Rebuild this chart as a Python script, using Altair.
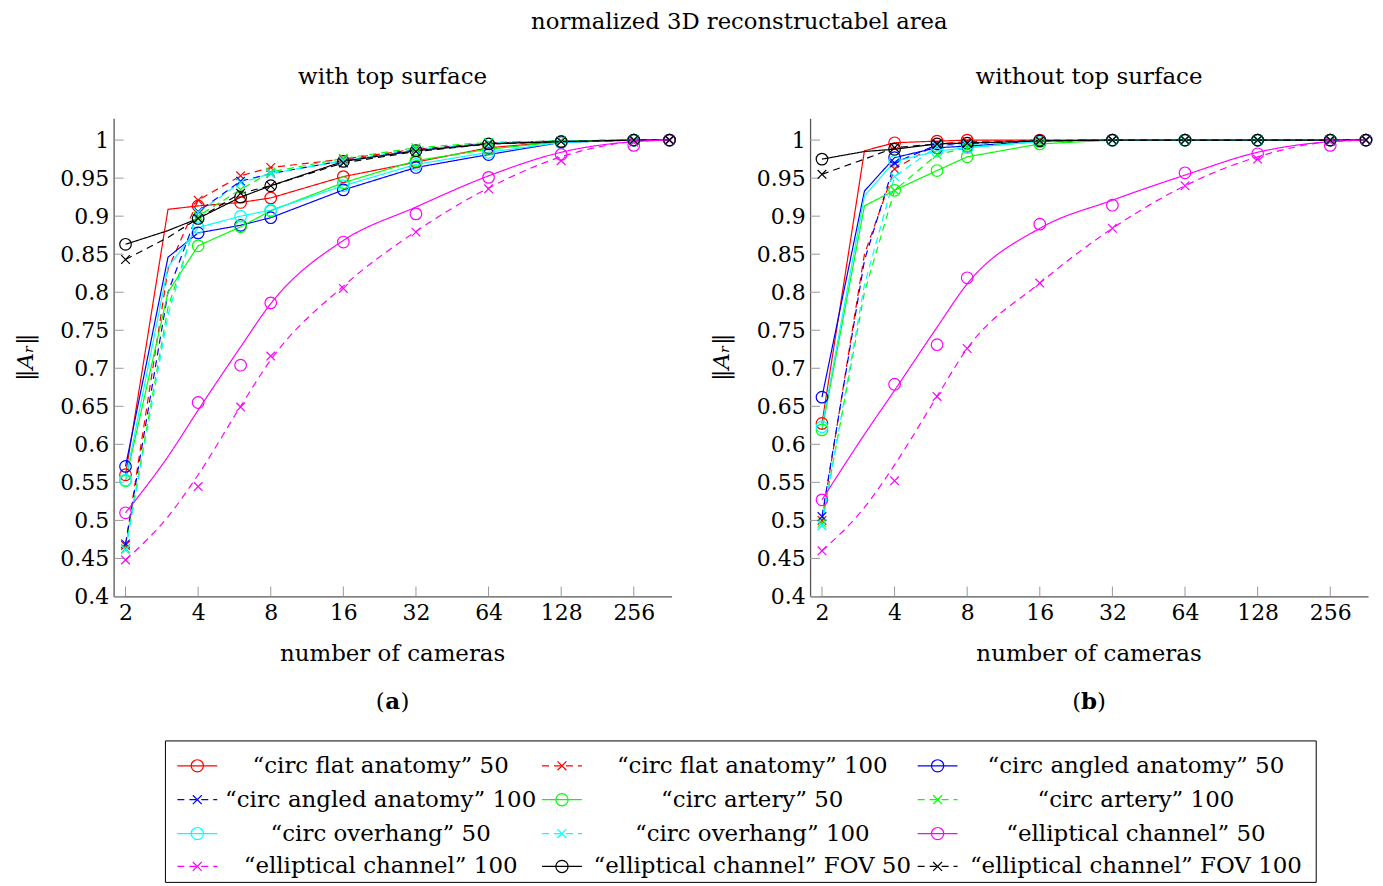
import altair as alt
import pandas as pd

FONT = "DejaVu Serif"

# ---------------- data ----------------
X_LINE = [2, 3, 4, 6, 8, 16, 32, 64, 128, 256, 360]
X_MARK = [2, 4, 6, 8, 16, 32, 64, 128, 256, 360]
X_TICKS = [2, 4, 8, 16, 32, 64, 128, 256]
Y_TICKS = [0.4, 0.45, 0.5, 0.55, 0.6, 0.65, 0.7, 0.75, 0.8, 0.85, 0.9, 0.95, 1.0]

SERIES = [
    "“circ flat anatomy” 50", "“circ flat anatomy” 100", "“circ angled anatomy” 50",
    "“circ angled anatomy” 100", "“circ artery” 50", "“circ artery” 100",
    "“circ overhang” 50", "“circ overhang” 100", "“elliptical channel” 50",
    "“elliptical channel” 100", "“elliptical channel” FOV 50", "“elliptical channel” FOV 100",
]
COLORS = ["#ff0000", "#ff0000", "#0000ff", "#0000ff", "#00ff00", "#00ff00",
          "#00ffff", "#00ffff", "#ff00ff", "#ff00ff", "#000000", "#000000"]
STYLE = ["solid", "dashed"] * 6

# panel (a): with top surface  (values at X_LINE)
A_FLAT50 = [0.560, 0.909, 0.9135, 0.918, 0.924, 0.952, 0.971, 0.990, 0.998, 1.0, 1.0]
A_FLAT100 = [0.467, 0.830, 0.921, 0.953, 0.964, 0.975, 0.988, 0.996, 0.999, 1.0, 1.0]
A_ANG50 = [0.571, 0.846, 0.878, 0.888, 0.898, 0.9345, 0.964, 0.981, 0.997, 1.0, 1.0]
A_ANG100 = [0.469, 0.800, 0.906, 0.946, 0.956, 0.973, 0.987, 0.996, 0.999, 1.0, 1.0]
A_ART50 = [0.552, 0.800, 0.861, 0.886, 0.907, 0.944, 0.973, 0.988, 0.998, 1.0, 1.0]
A_ART100 = [0.463, 0.780, 0.900, 0.935, 0.958, 0.976, 0.990, 0.997, 0.999, 1.0, 1.0]
A_OVH50 = [0.553, 0.833, 0.885, 0.900, 0.908, 0.940, 0.968, 0.984, 0.997, 1.0, 1.0]
A_OVH100 = [0.461, 0.770, 0.905, 0.944, 0.956, 0.973, 0.987, 0.996, 0.999, 1.0, 1.0]
A_ELL50 = [0.510, 0.584, 0.645, 0.728, 0.785, 0.868, 0.912, 0.953, 0.984, 0.998, 1.0]
A_ELL100 = [0.448, 0.505, 0.560, 0.650, 0.711, 0.808, 0.880, 0.937, 0.978, 0.998, 1.0]
A_FOV50 = [0.863, 0.881, 0.897, 0.925, 0.940, 0.972, 0.986, 0.995, 0.998, 1.0, 1.0]
A_FOV100 = [0.843, 0.872, 0.897, 0.930, 0.940, 0.970, 0.985, 0.995, 0.998, 1.0, 1.0]
# measured marker values (at X_MARK) where they sit off the drawn curve
A_ELL50_MARKS = [0.510, 0.655, 0.704, 0.786, 0.866, 0.903, 0.951, 0.981, 0.993, 1.0]
A_ELL100_MARKS = [0.448, 0.5445, 0.649, 0.716, 0.805, 0.879, 0.936, 0.973, 0.997, 1.0]

# panel (b): without top surface
B_FLAT50 = [0.6275, 0.986, 0.9965, 0.9987, 1.0, 1.0, 1.0, 1.0, 1.0, 1.0, 1.0]
B_FLAT100 = [0.500, 0.850, 0.962, 0.995, 0.998, 1.0, 1.0, 1.0, 1.0, 1.0, 1.0]
B_ANG50 = [0.662, 0.933, 0.977, 0.990, 0.992, 0.999, 1.0, 1.0, 1.0, 1.0, 1.0]
B_ANG100 = [0.505, 0.842, 0.970, 0.994, 0.996, 0.999, 1.0, 1.0, 1.0, 1.0, 1.0]
B_ART50 = [0.619, 0.9135, 0.934, 0.960, 0.978, 0.995, 1.0, 1.0, 1.0, 1.0, 1.0]
B_ART100 = [0.4965, 0.800, 0.934, 0.981, 0.990, 0.998, 1.0, 1.0, 1.0, 1.0, 1.0]
B_OVH50 = [0.623, 0.9266, 0.972, 0.9856, 0.990, 0.998, 1.0, 1.0, 1.0, 1.0, 1.0]
B_OVH100 = [0.493, 0.810, 0.952, 0.992, 0.994, 0.999, 1.0, 1.0, 1.0, 1.0, 1.0]
B_ELL50 = [0.527, 0.613, 0.671, 0.754, 0.811, 0.884, 0.921, 0.954, 0.984, 0.998, 1.0]
B_ELL100 = [0.460, 0.517, 0.573, 0.663, 0.726, 0.812, 0.884, 0.940, 0.978, 0.998, 1.0]
B_FOV50 = [0.975, 0.985, 0.988, 0.995, 0.996, 0.999, 1.0, 1.0, 1.0, 1.0, 1.0]
B_FOV100 = [0.955, 0.975, 0.990, 0.995, 0.996, 0.999, 1.0, 1.0, 1.0, 1.0, 1.0]
B_ELL50_MARKS = [0.527, 0.679, 0.731, 0.819, 0.8895, 0.9144, 0.957, 0.982, 0.993, 1.0]
B_ELL100_MARKS = [0.460, 0.552, 0.663, 0.726, 0.812, 0.884, 0.940, 0.975, 0.998, 1.0]

A_LINES = [A_FLAT50, A_FLAT100, A_ANG50, A_ANG100, A_ART50, A_ART100,
           A_OVH50, A_OVH100, A_ELL50, A_ELL100, A_FOV50, A_FOV100]
B_LINES = [B_FLAT50, B_FLAT100, B_ANG50, B_ANG100, B_ART50, B_ART100,
           B_OVH50, B_OVH100, B_ELL50, B_ELL100, B_FOV50, B_FOV100]
A_MARKS = {8: A_ELL50_MARKS, 9: A_ELL100_MARKS}
B_MARKS = {8: B_ELL50_MARKS, 9: B_ELL100_MARKS}

SMOOTH = {8, 9}
CROSS = "M-1,-1L1,1M-1,1L1,-1"


def build(lines, marks):
    rl, rm = [], []
    for i, name in enumerate(SERIES):
        for x, y in zip(X_LINE, lines[i]):
            rl.append(dict(series=name, k=i, x=x, y=y, dash=STYLE[i],
                           color=COLORS[i], smooth=i in SMOOTH))
        mv = marks.get(i, [v for x, v in zip(X_LINE, lines[i]) if x != 3])
        for x, y in zip(X_MARK, mv):
            rm.append(dict(series=name, k=i, x=x, y=y, color=COLORS[i],
                           marker="o" if STYLE[i] == "solid" else "x"))
    return pd.DataFrame(rl), pd.DataFrame(rm)


# ---------------- layout ----------------
W, H = 560, 480
XS = alt.Scale(type="log", base=2, domain=[1.785, 367.2], nice=False)
YS = alt.Scale(domain=[0.4, 1.0288], nice=False, zero=False)
DASH = alt.Scale(domain=["solid", "dashed"], range=[[1, 0], [7, 5]])

XAXIS = alt.Axis(values=X_TICKS, format="d", title=None, ticks=False, grid=False,
                 labelFont=FONT, labelFontSize=22, labelColor="black", labelPadding=6,
                 labelFlush=False, labelOverlap=False, domainColor="#555555", domainWidth=1.3)
YAXIS = alt.Axis(values=Y_TICKS, format="~g", title=None, ticks=False, grid=False,
                 labelFont=FONT, labelFontSize=22, labelColor="black", labelPadding=5,
                 labelFlush=False, labelOverlap=False, domainColor="#555555", domainWidth=1.3)


def txt(s, x, y, size=23, align="center", **kw):
    return alt.Chart(pd.DataFrame({"t": [s]})).mark_text(
        font=FONT, fontSize=size, align=align, baseline="middle", color="black", **kw
    ).encode(text="t:N", x=alt.value(x), y=alt.value(y))


def panel(lines, marks, subtitle, letter, main_title=False):
    dl, dm = build(lines, marks)
    xe = alt.X("x:Q", scale=XS, axis=XAXIS)
    ye = alt.Y("y:Q", scale=YS, axis=YAXIS)
    ytick = alt.Chart(pd.DataFrame({"y": Y_TICKS})).mark_rule(
        color="#9a9a9a", strokeWidth=1).encode(y=ye, x=alt.value(0), x2=alt.value(10))
    xtick = alt.Chart(pd.DataFrame({"x": X_TICKS})).mark_rule(
        color="#9a9a9a", strokeWidth=1).encode(x=xe, y=alt.value(H), y2=alt.value(H - 10))
    enc = dict(x=xe, y=ye, color=alt.Color("color:N", scale=None),
               strokeDash=alt.StrokeDash("dash:N", scale=DASH, legend=None),
               detail="k:N")
    straight = alt.Chart(dl).transform_filter("!datum.smooth").mark_line(
        strokeWidth=1.2).encode(**enc)
    smooth = alt.Chart(dl).transform_filter("datum.smooth").mark_line(
        strokeWidth=1.2, interpolate="monotone").encode(**enc)
    circ = alt.Chart(dm[dm.marker == "o"]).mark_point(
        shape="circle", size=135, filled=False, strokeWidth=1.2, opacity=1
    ).encode(x=xe, y=ye, color=alt.Color("color:N", scale=None))
    crs = alt.Chart(dm[dm.marker == "x"]).mark_point(
        shape=CROSS, size=75, filled=False, strokeWidth=1.2, opacity=1
    ).encode(x=xe, y=ye, color=alt.Color("color:N", scale=None))
    layers = [ytick, xtick, straight, smooth, circ, crs,
              txt(subtitle, 280, -41),
              txt("number of cameras", 280, 538),
              txt("(", 272, 586, align="right"),
              txt(letter, 280, 586, fontWeight="bold"),
              txt(")", 288, 586, align="left"),
              txt("‖Aᵣ‖", -88, 240, angle=270, fontStyle="italic")]
    if main_title:
        layers.append(txt("normalized 3D reconstructabel area", 628, -97, size=22.8))
        anchor = alt.Chart(pd.DataFrame({"t": [0]})).mark_rule(color="white").encode(
            x=alt.value(-105), x2=alt.value(-104), y=alt.value(-108), y2=alt.value(-107))
        layers.append(anchor)
    return alt.layer(*layers).properties(width=W, height=H)


pa = panel(A_LINES, A_MARKS, "with top surface", "a", main_title=True)
pb = panel(B_LINES, B_MARKS, "without top surface", "b")

# ---------------- legend ----------------
COL_SYM = [84, 450, 827]
COL_TXT = [268, 641, 1026]
ROW_Y = [25, 59, 93, 126]
LW, LH = 1207, 142

leg_rows = []
for i, name in enumerate(SERIES):
    r, c = divmod(i, 3)
    leg_rows.append(dict(label=name, color=COLORS[i], dash=STYLE[i],
                         marker="o" if STYLE[i] == "solid" else "x",
                         sx=COL_SYM[c], x1=COL_SYM[c] - 20, x2=COL_SYM[c] + 20,
                         tx=COL_TXT[c], ry=ROW_Y[r]))
leg = pd.DataFrame(leg_rows)
LX = alt.Scale(domain=[0, LW], range=[0, LW])
LY = alt.Scale(domain=[0, LH], range=[0, LH])
LDASH = alt.Scale(domain=["solid", "dashed"], range=[[1, 0], [6, 28, 6]])

box = alt.Chart(pd.DataFrame({"t": [0]})).mark_rect(
    fillOpacity=0, stroke="black", strokeWidth=1).encode(
    x=alt.value(52), x2=alt.value(LW), y=alt.value(0), y2=alt.value(LH))
lline = alt.Chart(leg).mark_rule(strokeWidth=1.2).encode(
    x=alt.X("x1:Q", scale=LX, axis=None), x2="x2:Q",
    y=alt.Y("ry:Q", scale=LY, axis=None),
    color=alt.Color("color:N", scale=None),
    strokeDash=alt.StrokeDash("dash:N", scale=LDASH, legend=None))
lcirc = alt.Chart(leg[leg.marker == "o"]).mark_point(
    shape="circle", size=150, filled=False, strokeWidth=1.2, opacity=1).encode(
    x=alt.X("sx:Q", scale=LX, axis=None), y=alt.Y("ry:Q", scale=LY, axis=None),
    color=alt.Color("color:N", scale=None))
lcrs = alt.Chart(leg[leg.marker == "x"]).mark_point(
    shape=CROSS, size=80, filled=False, strokeWidth=1.2, opacity=1).encode(
    x=alt.X("sx:Q", scale=LX, axis=None), y=alt.Y("ry:Q", scale=LY, axis=None),
    color=alt.Color("color:N", scale=None))
ltxt = alt.Chart(leg).mark_text(font=FONT, fontSize=23, align="center",
                                baseline="middle", color="black").encode(
    x=alt.X("tx:Q", scale=LX, axis=None), y=alt.Y("ry:Q", scale=LY, axis=None),
    text="label:N")
legend = alt.layer(box, lline, lcirc, lcrs, ltxt).properties(width=LW, height=LH)

row = alt.hconcat(pa, pb, spacing=139, bounds="flush")
# the nested row counts with zero height in a flush layout, so the spacing
# includes the plot height (480) plus the gap down to the legend box
chart = alt.vconcat(row, legend, spacing=H + 145, bounds="flush").properties(
    padding=0
).configure(font=FONT, view=alt.ViewConfig(stroke=None))

chart.save("out.html", embed_options={"renderer": "svg", "actions": False})
